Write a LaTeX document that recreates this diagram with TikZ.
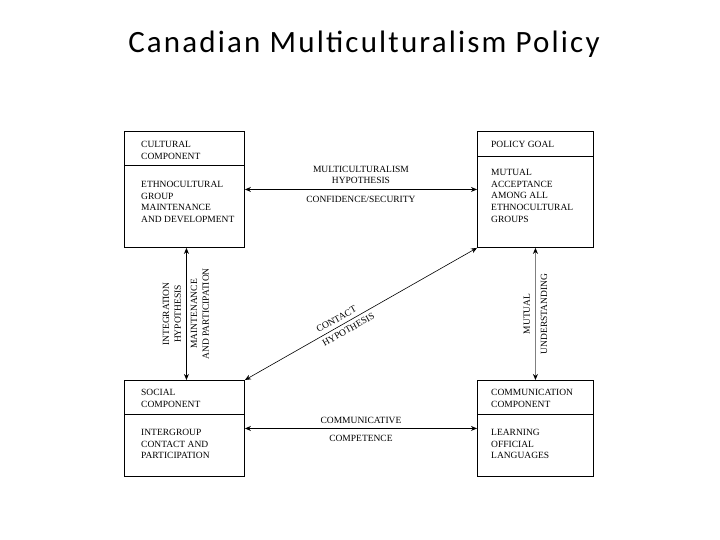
\documentclass[tikz,border=0pt]{standalone}
\usepackage{fontspec}
\setmainfont{Liberation Serif}
\newfontfamily\titlefont[LetterSpace=7]{Carlito}
\usetikzlibrary{arrows.meta}
\usetikzlibrary{positioning,calc}

\begin{document}
\begin{tikzpicture}[x=1pt,y=-1pt,
		box/.style={draw,line width=0.9pt,inner sep=0pt,anchor=north west},
		boxtext/.style={align=left,inner sep=0pt,font=\fontsize{9.5}{11.7}\selectfont},
		linktext/.style={align=center,inner sep=0pt,font=\fontsize{9.5}{11.7}\selectfont},
		link/.style={{Stealth[length=6pt,width=5pt,color=black]}-{Stealth[length=6pt,width=5pt,color=black]},line width=0.9pt}
	]
	\useasboundingbox (0,0) rectangle (720,540);

	% the title
	\node[anchor=base,inner sep=0pt,font=\titlefont\fontsize{31}{36}\selectfont] (title) at (364,53) {Canadian Multiculturalism Policy};

	% the four boxes
	\node[box,minimum width=120pt,minimum height=116pt] (cult) at (124,131) {};
	\node[box,minimum width=116pt,minimum height=116pt] (goal) at (477,131) {};
	\node[box,minimum width=120pt,minimum height=96pt] (soc) at (124,380) {};
	\node[box,minimum width=116pt,minimum height=96pt] (comm) at (477,380) {};

	% the dividers
	\coordinate (cultdiv) at (cult.west |- 0,165);
	\coordinate (goaldiv) at (goal.west |- 0,156);
	\coordinate (socdiv) at (soc.west |- 0,414);
	\coordinate (commdiv) at (comm.west |- 0,414);
	\foreach \b in {cult,goal,soc,comm}
		\draw[line width=0.9pt] (\b div) -- (\b div -| \b.east);

	% the texts in the boxes
	\node[boxtext,below right=10pt and 17pt of cult.north west] (culthead) {CULTURAL\\COMPONENT};
	\node[boxtext,below right=16pt and 17pt of cultdiv] (cultbody) {ETHNOCULTURAL\\GROUP\\MAINTENANCE\\AND DEVELOPMENT};
	\node[boxtext,below right=10pt and 14pt of goal.north west] (goalhead) {POLICY GOAL};
	\node[boxtext,below right=13pt and 14pt of goaldiv] (goalbody) {MUTUAL\\ACCEPTANCE\\AMONG ALL\\ETHNOCULTURAL\\GROUPS};
	\node[boxtext,below right=9pt and 17pt of soc.north west] (sochead) {SOCIAL\\COMPONENT};
	\node[boxtext,below right=15pt and 17pt of socdiv] (socbody) {INTERGROUP\\CONTACT AND\\PARTICIPATION};
	\node[boxtext,below right=9pt and 14pt of comm.north west] (commhead) {COMMUNICATION\\COMPONENT};
	\node[boxtext,below right=15pt and 14pt of commdiv] (commbody) {LEARNING\\OFFICIAL\\LANGUAGES};

	% the links
	\draw[link] (cult) -- (goal)
		node[linktext,midway,above=5pt] {MULTICULTURALISM\\HYPOTHESIS}
		node[linktext,midway,below=6pt] {CONFIDENCE/SECURITY};
	\draw[link] (soc) -- (comm)
		node[linktext,midway,above=4pt] {COMMUNICATIVE}
		node[linktext,midway,below=6pt] {COMPETENCE};
	\draw[link] ([xshift=2pt]soc.north) -- ([xshift=2pt]cult.south)
		node[linktext,midway,sloped,above=5pt] {INTEGRATION\\HYPOTHESIS}
		node[linktext,midway,sloped,below=4pt] {MAINTENANCE\\AND PARTICIPATION};
	\draw[link,gray] (comm) -- (goal)
		node[linktext,black,midway,sloped,above=5pt] {MUTUAL}
		node[linktext,black,midway,sloped,below=5pt] {UNDERSTANDING};
	\draw[link,line width=0.6pt] (soc.north east) -- (goal.south west)
		node[linktext,pos=0.41,sloped,above=4pt] {CONTACT}
		node[linktext,pos=0.43,sloped,below=4pt] {HYPOTHESIS};
\end{tikzpicture}
\end{document}
